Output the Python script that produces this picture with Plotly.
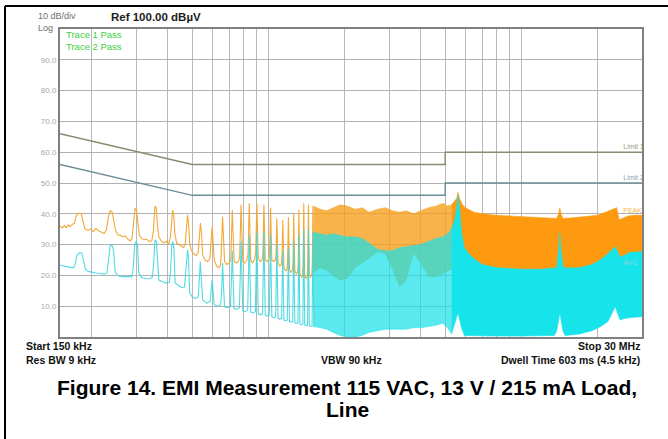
import math
import plotly.graph_objects as go

# ---------------- data (frequency in MHz, level in dBuV) ----------------
# Limit lines (EN55022 class B QP / AVG)
limit1_f = [0.15, 0.5, 5.0, 5.0, 30.0]
limit1_v = [66.0, 56.0, 56.0, 60.0, 60.0]
limit2_f = [0.15, 0.5, 5.0, 5.0, 30.0]
limit2_v = [56.0, 46.0, 46.0, 50.0, 50.0]

# Trace 1 (peak, orange) - low frequency part, read point by point
peak_low_f = [0.150, 0.153, 0.156, 0.159, 0.162, 0.165, 0.168, 0.171, 0.174, 0.178, 0.182, 0.185, 0.188,
              0.193, 0.198, 0.203, 0.208, 0.213, 0.218, 0.224, 0.229, 0.233, 0.237, 0.241, 0.245, 0.249,
              0.254, 0.260, 0.266, 0.272, 0.278, 0.284, 0.289, 0.293, 0.297, 0.301, 0.305, 0.309, 0.315,
              0.322, 0.330, 0.338, 0.346, 0.351, 0.356, 0.360, 0.364, 0.369, 0.376, 0.385, 0.395, 0.404,
              0.410, 0.415, 0.418, 0.422, 0.427, 0.434, 0.442, 0.452, 0.462, 0.469, 0.475, 0.479, 0.483,
              0.489, 0.497, 0.507, 0.518, 0.528, 0.534, 0.539, 0.544, 0.550, 0.562, 0.575, 0.587, 0.594,
              0.599, 0.604, 0.611, 0.624, 0.638, 0.648, 0.654, 0.659, 0.664, 0.671, 0.685, 0.700, 0.710,
              0.715, 0.720, 0.725, 0.732, 0.748, 0.762, 0.770, 0.775, 0.780, 0.785, 0.792, 0.808, 0.822,
              0.831, 0.836, 0.840, 0.845, 0.852, 0.868, 0.882, 0.891, 0.896, 0.900, 0.905, 0.912, 0.928,
              0.942, 0.951, 0.956, 0.960, 0.965, 0.972, 0.990, 1.002, 1.011, 1.016, 1.020, 1.025, 1.032,
              1.050, 1.065, 1.072, 1.077, 1.080, 1.085, 1.092, 1.110, 1.125, 1.132, 1.137, 1.140, 1.145,
              1.152, 1.170, 1.185, 1.192, 1.197, 1.200, 1.205, 1.212, 1.230, 1.245, 1.252, 1.257, 1.260,
              1.265, 1.272, 1.290, 1.305, 1.312, 1.317, 1.320, 1.325, 1.332, 1.350, 1.365, 1.372, 1.377,
              1.380, 1.385, 1.392, 1.410, 1.425, 1.432, 1.437, 1.440, 1.445, 1.452, 1.470, 1.485, 1.492,
              1.497, 1.500, 1.505, 1.512]
peak_low_v = [36.0, 35.4, 36.2, 35.5, 36.4, 35.8, 36.6, 36.9, 39.5, 40.2, 40.0, 37.8, 35.2,
              34.6, 35.0, 34.2, 35.3, 34.5, 34.0, 33.6, 34.8, 39.0, 41.0, 40.6, 37.5, 34.5,
              33.2, 33.0, 32.5, 32.8, 31.8, 31.2, 32.0, 36.5, 41.8, 41.0, 36.0, 33.0, 32.0,
              31.6, 31.8, 31.0, 31.2, 34.5, 42.5, 42.0, 36.5, 32.5, 31.3, 30.6, 31.0, 30.2,
              32.5, 38.5, 41.2, 40.0, 33.5, 30.5, 30.0, 29.5, 29.0, 30.5, 37.5, 39.6, 37.0,
              30.0, 28.0, 27.0, 26.5, 27.5, 33.0, 37.0, 33.5, 26.5, 25.0, 24.5, 25.5, 30.5,
              35.8, 31.5, 25.0, 23.0, 22.5, 23.5, 31.0, 39.0, 33.0, 24.5, 23.5, 24.0, 25.0,
              33.5, 41.2, 34.0, 24.5, 24.0, 24.5, 26.0, 35.0, 42.9, 35.0, 24.5, 24.0, 25.0,
              27.0, 36.0, 43.4, 35.5, 25.0, 24.0, 25.5, 27.5, 36.5, 43.4, 36.0, 25.5, 24.5,
              25.0, 27.0, 36.0, 42.9, 35.5, 25.0, 24.5, 25.0, 27.0, 35.0, 42.0, 34.0, 25.0,
              24.5, 25.0, 27.0, 33.0, 38.5, 32.0, 24.0, 23.0, 23.5, 26.0, 32.0, 38.0, 31.0,
              22.5, 21.5, 22.0, 25.0, 32.0, 38.9, 31.0, 22.0, 21.0, 21.5, 24.5, 32.0, 40.0,
              31.0, 21.5, 20.5, 21.0, 24.0, 33.0, 41.2, 32.0, 20.5, 19.5, 20.0, 24.0, 34.0,
              43.4, 33.0, 19.8, 19.0, 19.5, 24.0, 34.0, 42.9, 33.0, 20.0, 19.5, 20.5, 24.5,
              34.0, 42.5, 33.0, 21.0]

# Trace 2 (average, cyan) - low frequency part
avg_low_f = [0.150, 0.155, 0.160, 0.165, 0.170, 0.172, 0.175, 0.179, 0.183, 0.186, 0.189, 0.194, 0.200,
             0.208, 0.216, 0.224, 0.230, 0.234, 0.237, 0.242, 0.245, 0.248, 0.256, 0.266, 0.278, 0.288,
             0.292, 0.296, 0.300, 0.304, 0.307, 0.315, 0.328, 0.340, 0.348, 0.352, 0.356, 0.361, 0.365,
             0.369, 0.380, 0.395, 0.406, 0.411, 0.415, 0.419, 0.423, 0.428, 0.440, 0.455, 0.466, 0.471,
             0.475, 0.479, 0.483, 0.488, 0.500, 0.515, 0.528, 0.533, 0.538, 0.543, 0.550, 0.570, 0.588,
             0.594, 0.599, 0.604, 0.611, 0.630, 0.648, 0.654, 0.659, 0.664, 0.671, 0.690, 0.708, 0.714,
             0.720, 0.726, 0.732, 0.750, 0.768, 0.774, 0.780, 0.786, 0.792, 0.810, 0.828, 0.834, 0.840,
             0.846, 0.852, 0.870, 0.888, 0.894, 0.900, 0.906, 0.912, 0.930, 0.948, 0.954, 0.960, 0.966,
             0.972, 0.990, 1.008, 1.014, 1.020, 1.026, 1.032, 1.050, 1.068, 1.074, 1.080, 1.086, 1.092,
             1.110, 1.128, 1.134, 1.140, 1.146, 1.152, 1.170, 1.188, 1.194, 1.200, 1.206, 1.212, 1.230,
             1.248, 1.254, 1.260, 1.266, 1.272, 1.290, 1.308, 1.314, 1.320, 1.326, 1.332, 1.350, 1.368,
             1.374, 1.380, 1.386, 1.392, 1.410, 1.428, 1.434, 1.440, 1.446, 1.452, 1.470, 1.488, 1.494,
             1.500, 1.506, 1.512]
avg_low_v = [23.3, 23.0, 22.8, 22.6, 22.5, 23.5, 26.5, 27.4, 27.2, 25.0, 22.0, 21.3, 21.0,
             20.8, 20.6, 20.4, 20.8, 27.0, 29.9, 29.5, 27.0, 21.0, 19.8, 19.6, 19.5, 19.6,
             22.0, 30.0, 31.0, 30.0, 21.0, 19.3, 19.0, 18.9, 19.5, 24.0, 31.5, 31.0, 24.0,
             18.5, 18.0, 17.5, 17.8, 22.0, 30.0, 31.0, 29.0, 17.5, 16.8, 16.0, 16.3, 21.0,
             27.0, 28.2, 26.0, 14.5, 13.0, 12.5, 13.0, 18.0, 24.5, 19.0, 12.0, 11.0, 11.5,
             15.0, 18.5, 15.0, 10.5, 10.0, 10.5, 16.0, 24.0, 17.0, 9.8, 9.5, 10.0, 18.0,
             28.0, 18.0, 9.2, 9.0, 9.5, 20.0, 31.0, 19.0, 8.5, 8.2, 8.8, 20.0, 33.0,
             20.0, 8.0, 7.8, 8.2, 21.0, 34.0, 20.0, 7.5, 7.2, 7.6, 21.0, 34.0, 20.0,
             7.0, 6.8, 7.0, 20.0, 33.0, 19.0, 6.5, 6.2, 6.5, 18.0, 30.0, 17.0, 6.0,
             5.8, 6.0, 17.0, 28.0, 16.0, 5.5, 5.3, 5.5, 17.0, 29.0, 16.0, 5.0, 4.8,
             5.0, 18.0, 31.0, 17.0, 4.6, 4.4, 4.5, 19.0, 33.0, 18.0, 4.2, 4.0, 4.1,
             20.0, 35.0, 19.0, 3.9, 3.7, 3.8, 20.0, 35.0, 19.0, 3.6, 3.5, 3.5, 19.0,
             34.0, 18.0, 3.4]

# Mid band (dense comb): upper / lower envelopes
peak_mid_f = [1.51, 1.6, 1.7, 1.8, 1.92, 2.05, 2.2, 2.35, 2.5, 2.7, 2.9, 3.1, 3.3, 3.5, 3.75, 4.0, 4.3, 4.6, 4.9, 5.1, 5.3]
peak_mid_hi = [42.5, 41.5, 41.0, 42.0, 42.9, 42.5, 41.5, 42.0, 40.5, 41.5, 42.0, 41.0, 40.5, 41.0, 40.0, 41.0, 42.0, 42.5, 43.4, 42.5, 42.9]
peak_mid_lo = [21.0, 22.5, 21.7, 20.0, 18.5, 19.0, 22.5, 24.0, 25.5, 27.7, 27.0, 22.0, 16.3, 18.5, 27.2, 24.0, 19.6, 19.6, 20.5, 21.5, 22.0]
avg_mid_f = [1.51, 1.6, 1.7, 1.8, 1.92, 2.05, 2.2, 2.35, 2.5, 2.7, 2.9, 3.1, 3.3, 3.5, 3.75, 4.0, 4.3, 4.6, 4.9, 5.1, 5.3]
avg_mid_hi = [34.0, 33.5, 33.0, 33.5, 33.0, 32.5, 32.5, 32.0, 30.5, 28.5, 28.0, 28.0, 29.0, 29.3, 29.5, 30.0, 31.0, 32.0, 32.5, 33.5, 35.0]
avg_mid_lo = [3.4, 3.0, 2.5, 1.5, 0.5, 0.0, 0.0, 0.5, 1.5, 2.0, 2.5, 2.5, 2.5, 2.5, 3.0, 3.0, 3.5, 3.8, 4.5, 3.0, 1.0]

# High band (solid): upper / lower envelopes
peak_high_f = [5.3, 5.45, 5.55, 5.62, 5.7, 5.85, 6.0, 6.5, 7.0, 8.0, 10.0, 12.0, 13.8, 14.05, 14.2, 14.35, 14.6,
               16.0, 18.0, 20.0, 21.5, 23.0, 23.8, 24.4, 25.0, 26.5, 28.0, 30.0]
peak_high_hi = [42.9, 44.0, 45.0, 46.9, 45.0, 43.0, 42.0, 40.5, 40.0, 39.5, 39.0, 38.7, 38.5, 40.0, 41.9, 40.0, 38.5,
                38.7, 39.0, 39.5, 40.5, 41.5, 42.0, 38.0, 38.5, 39.3, 39.5, 39.5]
peak_high_lo = [22.0, 26.0, 30.0, 32.0, 30.0, 27.0, 25.0, 23.5, 23.0, 22.5, 22.0, 22.0, 22.0, 26.0, 30.0, 26.0, 22.0,
                21.5, 22.0, 23.0, 24.5, 27.0, 28.0, 25.0, 25.0, 26.0, 26.5, 26.5]
avg_high_f = [5.3, 5.45, 5.55, 5.62, 5.7, 5.8, 5.95, 6.2, 6.6, 7.0, 8.0, 10.0, 12.0, 13.5, 13.8, 14.05, 14.2, 14.35,
              14.6, 14.9, 15.0, 17.0, 19.0, 20.5, 22.0, 23.5, 24.6, 25.5, 27.0, 30.0]
avg_high_hi = [35.0, 38.0, 42.0, 46.0, 42.0, 34.0, 29.0, 27.0, 25.0, 23.5, 22.5, 22.0, 22.0, 22.3, 22.5, 28.0, 33.8, 28.0,
               23.0, 22.5, 22.4, 22.5, 23.5, 25.0, 27.0, 29.3, 26.0, 26.5, 27.5, 27.7]
avg_high_lo = [1.0, 4.0, 6.5, 7.8, 6.0, 3.0, 0.5, 0.3, 0.3, 0.3, 0.3, 0.3, 0.4, 0.5, 2.0, 5.5, 7.8, 5.5,
               2.0, 0.5, 0.5, 1.0, 2.0, 3.3, 5.0, 9.8, 5.5, 6.0, 6.3, 6.6]

# Tick labels
grid_f = [0.2, 0.3, 0.4, 0.5, 0.6, 0.7, 0.8, 0.9, 1, 2, 3, 4, 5, 6, 7, 8, 9, 10, 20]
y_ticks = [10, 20, 30, 40, 50, 60, 70, 80, 90]
y_labels = ["10.0", "20.0", "30.0", "40.0", "50.0", "60.0", "70.0", "80.0", "90.0"]

# ---------------- styling / layout ----------------
W, H = 668, 439
L, R, T, B = 60, 642, 29, 337


def px(x):
    return (x - L) / (R - L)


def py(y):
    return (B - y) / (B - T)


ORANGE = "#fd9a10"
CYAN = "#16e3ea"

fig = go.Figure()


def band(f, hi, lo, color, name):
    fig.add_trace(go.Scatter(x=list(f) + list(f)[::-1], y=list(hi) + list(lo)[::-1],
                             fill="toself", fillcolor=color, mode="lines",
                             line=dict(color=color, width=0.6), hoverinfo="skip",
                             showlegend=False, name=name))


# limit lines
fig.add_trace(go.Scatter(x=limit1_f, y=limit1_v, mode="lines", line=dict(color="#8c8a70", width=1.4),
                         showlegend=False, name="Limit 1"))
fig.add_trace(go.Scatter(x=limit2_f, y=limit2_v, mode="lines", line=dict(color="#6c8e96", width=1.4),
                         showlegend=False, name="Limit 2"))

# orange (peak)
fig.add_trace(go.Scatter(x=peak_low_f, y=peak_low_v, mode="lines", line=dict(color="#f5a834", width=1.1),
                         showlegend=False, name="Trace 1"))
band(peak_mid_f, peak_mid_hi, peak_mid_lo, "rgba(248,160,30,0.8)", "Trace 1 mid")
band(peak_high_f, peak_high_hi, peak_high_lo, ORANGE, "Trace 1 high")

# cyan (average)
fig.add_trace(go.Scatter(x=avg_low_f, y=avg_low_v, mode="lines", line=dict(color="rgba(60,215,225,0.9)", width=1.1),
                         showlegend=False, name="Trace 2"))
band(avg_mid_f, avg_mid_hi, avg_mid_lo, "rgba(25,224,232,0.72)", "Trace 2 mid")
band(avg_high_f, avg_high_hi, avg_high_lo, CYAN, "Trace 2 high")

# right-hand trace labels (clipped at plot edge like the analyzer)
fig.add_trace(go.Scatter(x=[25.3, 25.3, 25.3, 25.3], y=[61.6, 51.6, 40.9, 23.8],
                         text=["Limit 1", "Limit 2", "PEAK", "AVG"], mode="text",
                         textposition="middle right",
                         textfont=dict(size=7, color=["#9c9a80", "#8ea4a8", "#f0b848", "#86d6dc"],
                                       family="Liberation Sans"),
                         showlegend=False, hoverinfo="skip"))

fig.update_xaxes(type="log", range=[math.log10(0.15), math.log10(30)], tickvals=grid_f,
                 showticklabels=False, ticks="", showgrid=True, gridcolor="#b8b8b8", gridwidth=1,
                 showline=True, mirror=True, linecolor="#808080", linewidth=2, zeroline=False)
fig.update_yaxes(range=[0, 100], tickvals=y_ticks, ticktext=y_labels, ticks="",
                 tickfont=dict(size=8, color="#a8a8a8", family="Liberation Sans"),
                 showgrid=True, gridcolor="#b0b0b0", gridwidth=1,
                 showline=True, mirror=True, linecolor="#808080", linewidth=2, zeroline=False)

anns = []


def ann(text, x, y, size, color="#000", bold=False, xanchor="left", family="Liberation Sans", align="left"):
    t = f"<b>{text}</b>" if bold else text
    anns.append(dict(text=t, x=px(x), y=py(y), xref="paper", yref="paper", showarrow=False,
                     xanchor=xanchor, yanchor="middle", align=align,
                     font=dict(size=size, color=color, family=family)))


ann("10 dB/div<br>Log", 36, 21.5, 9, "#707070")
ann("Ref 100.00 dBµV", 109, 17, 11.5, "#202020", bold=True)
ann("Trace 1 Pass<br>Trace 2 Pass", 64, 40.5, 9.5, "#3ecf3e")

ann("Start 150 kHz", 24, 346, 10.5, "#111", bold=True)
ann("Stop 30 MHz", 642, 346, 10.5, "#111", bold=True, xanchor="right")
ann("Res BW 9 kHz", 24, 360, 10.5, "#111", bold=True)
ann("VBW 90 kHz", 351, 360, 10.5, "#111", bold=True, xanchor="center")
ann("Dwell Time 603 ms (4.5 kHz)", 642, 360, 10.5, "#111", bold=True, xanchor="right")

ann("Figure 14. EMI Measurement 115 VAC, 13 V / 215 mA Load,", 347, 387, 21, "#000", bold=True, xanchor="center")
ann("Line", 347, 410, 21, "#000", bold=True, xanchor="center")

shapes = [
    dict(type="line", xref="paper", yref="paper", x0=px(5), x1=px(668), y0=py(6), y1=py(6),
         line=dict(color="#000", width=2)),
    dict(type="line", xref="paper", yref="paper", x0=px(5), x1=px(5), y0=py(6), y1=py(440),
         line=dict(color="#000", width=2)),
]

fig.update_layout(width=W, height=H, margin=dict(l=L, r=W - R, t=T, b=H - B, pad=0),
                  plot_bgcolor="white", paper_bgcolor="white", annotations=anns, shapes=shapes,
                  showlegend=False)

fig.write_html("out.html", config={"displayModeBar": False},
               post_script="document.body.style.margin='0px';")
